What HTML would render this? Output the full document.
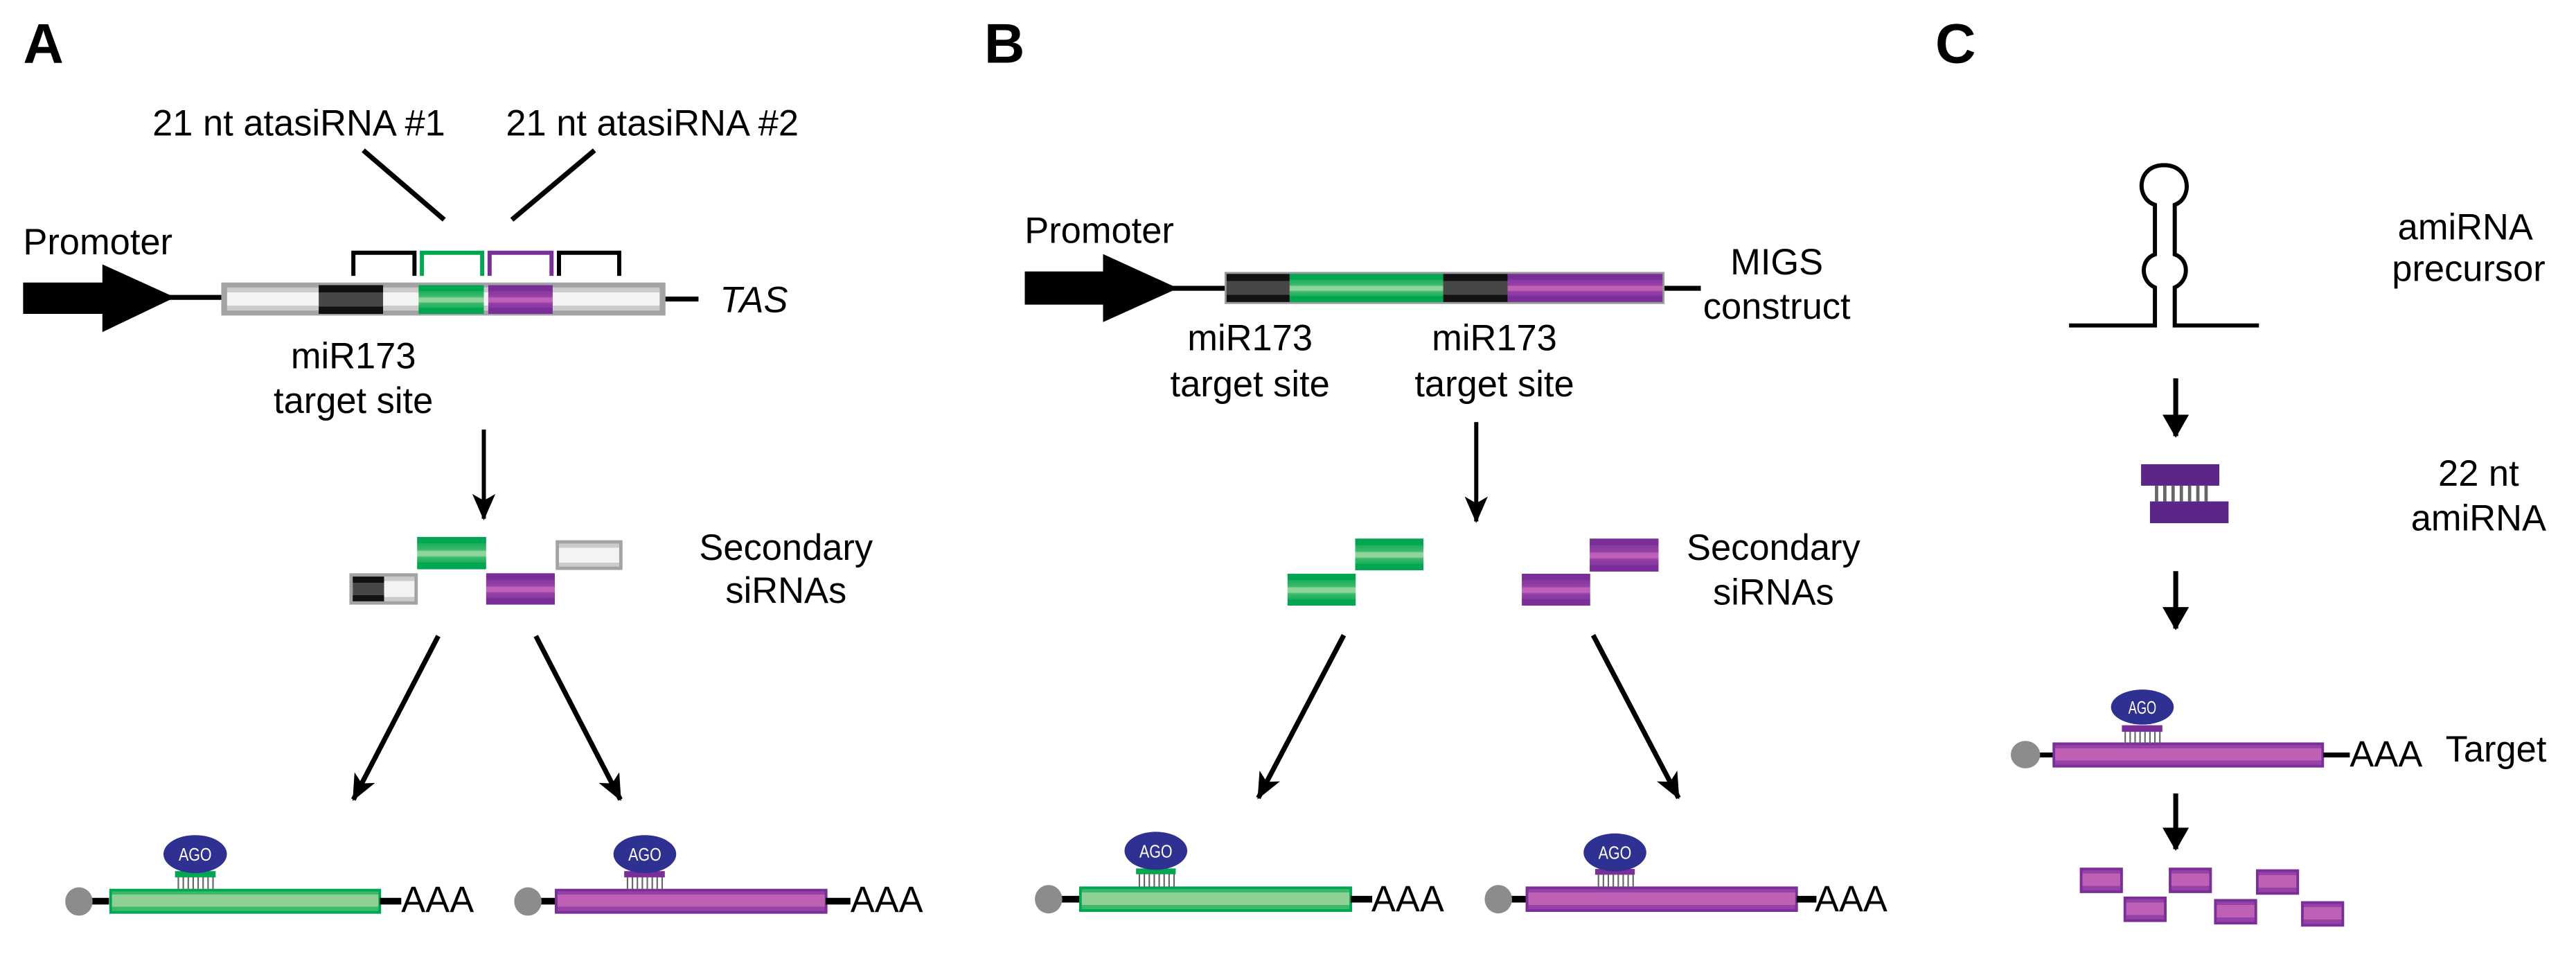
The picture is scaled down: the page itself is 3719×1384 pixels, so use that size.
<!DOCTYPE html>
<html><head><meta charset="utf-8"><style>html,body{margin:0;padding:0;background:#fff}svg{display:block}</style></head>
<body>
<svg width="3719" height="1384" viewBox="0 0 1560 580.5" preserveAspectRatio="none" xmlns="http://www.w3.org/2000/svg" font-family="Liberation Sans, sans-serif">
<defs>
<linearGradient id="gG" x1="0" y1="0" x2="0" y2="1">
<stop offset="0" stop-color="#00a651"/><stop offset="0.2" stop-color="#00a651"/><stop offset="0.2" stop-color="#1aae5a"/><stop offset="0.4" stop-color="#3cba6c"/><stop offset="0.45" stop-color="#8fd49c"/><stop offset="0.58" stop-color="#8fd49c"/><stop offset="0.63" stop-color="#3cba6c"/><stop offset="0.8" stop-color="#1aae5a"/><stop offset="0.8" stop-color="#00a651"/><stop offset="1" stop-color="#00a651"/></linearGradient>
<linearGradient id="gP" x1="0" y1="0" x2="0" y2="1">
<stop offset="0" stop-color="#7a2e98"/><stop offset="0.2" stop-color="#7a2e98"/><stop offset="0.2" stop-color="#86389f"/><stop offset="0.4" stop-color="#9441a8"/><stop offset="0.45" stop-color="#c060b8"/><stop offset="0.58" stop-color="#c060b8"/><stop offset="0.63" stop-color="#9441a8"/><stop offset="0.8" stop-color="#86389f"/><stop offset="0.8" stop-color="#7a2e98"/><stop offset="1" stop-color="#7a2e98"/></linearGradient>
<linearGradient id="gW" x1="0" y1="0" x2="0" y2="1">
<stop offset="0" stop-color="#cfcaca"/><stop offset="0.22" stop-color="#cfcaca"/><stop offset="0.22" stop-color="#f3f3f3"/><stop offset="0.78" stop-color="#f3f3f3"/><stop offset="0.78" stop-color="#cfcaca"/><stop offset="1" stop-color="#cfcaca"/></linearGradient>
<linearGradient id="gK" x1="0" y1="0" x2="0" y2="1">
<stop offset="0" stop-color="#111"/><stop offset="0.25" stop-color="#111"/><stop offset="0.25" stop-color="#474747"/><stop offset="0.75" stop-color="#474747"/><stop offset="0.75" stop-color="#111"/><stop offset="1" stop-color="#111"/></linearGradient>
<linearGradient id="gGL" x1="0" y1="0" x2="0" y2="1">
<stop offset="0" stop-color="#3cba6c"/><stop offset="0.2" stop-color="#3cba6c"/><stop offset="0.2" stop-color="#8fd095"/><stop offset="0.75" stop-color="#8fd095"/><stop offset="0.75" stop-color="#3cba6c"/><stop offset="1" stop-color="#3cba6c"/></linearGradient>
<linearGradient id="gPL" x1="0" y1="0" x2="0" y2="1">
<stop offset="0" stop-color="#9441a8"/><stop offset="0.2" stop-color="#9441a8"/><stop offset="0.2" stop-color="#be60b4"/><stop offset="0.75" stop-color="#be60b4"/><stop offset="0.75" stop-color="#9441a8"/><stop offset="1" stop-color="#9441a8"/></linearGradient>
<marker id="ah" viewBox="0 0 16 14" refX="15" refY="7" markerWidth="16" markerHeight="14" orient="auto" markerUnits="userSpaceOnUse"><path d="M0,0 L16,7 L0,14 L4,7 z" fill="#000"/></marker>
<marker id="ah2" viewBox="0 0 14 16" refX="13" refY="8" markerWidth="14" markerHeight="16" orient="auto" markerUnits="userSpaceOnUse"><path d="M0,0 L14,8 L0,16 z" fill="#000"/></marker>
</defs>

<g fill="#000" font-size="22">
<!-- Panel A -->
<text x="14" y="38" font-size="34" font-weight="bold">A</text>
<text x="181" y="82" text-anchor="middle">21 nt atasiRNA #1</text>
<text x="395" y="82" text-anchor="middle">21 nt atasiRNA #2</text>
<line x1="220" y1="91" x2="269" y2="133" stroke="#000" stroke-width="3"/>
<line x1="360" y1="91" x2="310" y2="133" stroke="#000" stroke-width="3"/>
<text x="14" y="154">Promoter</text>
<path d="M14,171 H62 V160 L106,180 L62,201 V190 H14 z"/>
<line x1="100" y1="180" x2="135" y2="180" stroke="#000" stroke-width="3"/>
<rect x="134" y="171" width="269" height="20" fill="#a3a3a3"/>
<rect x="137.5" y="174" width="262" height="14" fill="url(#gW)"/>
<rect x="193" y="172.6" width="39" height="17.4" fill="url(#gK)"/>
<rect x="253.5" y="172.6" width="39.5" height="17.4" fill="url(#gG)"/>
<rect x="295.7" y="172.6" width="39" height="17.4" fill="url(#gP)"/>
<line x1="403" y1="181" x2="423" y2="181" stroke="#000" stroke-width="3"/>
<text x="436" y="189" font-style="italic">TAS</text>
<path d="M214,167 V153 H251 V167" fill="none" stroke="#000" stroke-width="2.5"/>
<path d="M255.5,167 V153 H292 V167" fill="none" stroke="#00a651" stroke-width="2.5"/>
<path d="M296.5,167 V153 H334 V167" fill="none" stroke="#7a2e98" stroke-width="2.5"/>
<path d="M338.5,167 V153 H375 V167" fill="none" stroke="#000" stroke-width="2.5"/>
<text x="214" y="223" text-anchor="middle">miR173</text>
<text x="214" y="250" text-anchor="middle">target site</text>
<line x1="293" y1="260" x2="293" y2="314" stroke="#000" stroke-width="2.5" marker-end="url(#ah)"/>
<rect x="252.6" y="325" width="41.8" height="19.6" fill="url(#gG)"/>
<rect x="337.5" y="328" width="38.5" height="16" fill="url(#gW)" stroke="#a3a3a3" stroke-width="2"/>
<rect x="212.6" y="348" width="39.4" height="17" fill="url(#gW)" stroke="#a3a3a3" stroke-width="2"/>
<rect x="213.6" y="349" width="19" height="15" fill="url(#gK)"/>
<rect x="294.4" y="347" width="41.6" height="19" fill="url(#gP)"/>
<text x="476" y="339" text-anchor="middle">Secondary</text>
<text x="476" y="365" text-anchor="middle">siRNAs</text>
<line x1="265.4" y1="385" x2="214" y2="484" stroke="#000" stroke-width="3" marker-end="url(#ah)"/>
<line x1="324.5" y1="385" x2="375.7" y2="484" stroke="#000" stroke-width="3" marker-end="url(#ah)"/>

<!-- bottom A -->
<line x1="48" y1="545.5" x2="66" y2="545.5" stroke="#000" stroke-width="4"/>
<ellipse cx="47.8" cy="545.7" rx="8.3" ry="8.6" fill="#8c8c8c"/>
<rect x="67" y="538.8" width="163" height="13.5" fill="url(#gGL)" stroke="#00a651" stroke-width="1.6"/>
<line x1="230" y1="545.5" x2="243" y2="545.5" stroke="#000" stroke-width="4"/>
<text x="243" y="552" font-size="22">AAA</text>
<rect x="106" y="527.3" width="24.6" height="3.8" fill="#00a651"/>
<g stroke="#666" stroke-width="0.9"><line x1="108" y1="531" x2="108" y2="538"/><line x1="111" y1="531" x2="111" y2="538"/><line x1="114" y1="531" x2="114" y2="538"/><line x1="117" y1="531" x2="117" y2="538"/><line x1="120" y1="531" x2="120" y2="538"/><line x1="123" y1="531" x2="123" y2="538"/><line x1="126" y1="531" x2="126" y2="538"/><line x1="129" y1="531" x2="129" y2="538"/></g>
<ellipse cx="118.2" cy="517" rx="19.2" ry="11.5" fill="#2e3192"/>
<text x="118.2" y="521" font-size="11" fill="#fff" text-anchor="middle" textLength="20" lengthAdjust="spacingAndGlyphs">AGO</text>

<line x1="320" y1="545.5" x2="336" y2="545.5" stroke="#000" stroke-width="4"/>
<ellipse cx="319.7" cy="545.7" rx="8.3" ry="8.6" fill="#8c8c8c"/>
<rect x="336.8" y="538.8" width="163.5" height="13.5" fill="url(#gPL)" stroke="#7a2e98" stroke-width="1.6"/>
<line x1="500" y1="545.5" x2="515" y2="545.5" stroke="#000" stroke-width="4"/>
<text x="515" y="552" font-size="22">AAA</text>
<rect x="378" y="527.3" width="24.6" height="3.8" fill="#7a2e98"/>
<g stroke="#666" stroke-width="0.9"><line x1="380" y1="531" x2="380" y2="538"/><line x1="383" y1="531" x2="383" y2="538"/><line x1="386" y1="531" x2="386" y2="538"/><line x1="389" y1="531" x2="389" y2="538"/><line x1="392" y1="531" x2="392" y2="538"/><line x1="395" y1="531" x2="395" y2="538"/><line x1="398" y1="531" x2="398" y2="538"/><line x1="401" y1="531" x2="401" y2="538"/></g>
<ellipse cx="390.5" cy="517" rx="19" ry="11.5" fill="#2e3192"/>
<text x="390.5" y="521" font-size="11" fill="#fff" text-anchor="middle" textLength="20" lengthAdjust="spacingAndGlyphs">AGO</text>

<!-- Panel B -->
<text x="596" y="38" font-size="34" font-weight="bold">B</text>
<text x="620.5" y="147">Promoter</text>
<path d="M620.6,164.3 H668 V153.8 L713.4,174.5 L668,195 V184.4 H620.6 z"/>
<line x1="708" y1="174.5" x2="742" y2="174.5" stroke="#000" stroke-width="3"/>
<rect x="741.6" y="164.6" width="266.4" height="19.4" fill="#999"/>
<rect x="742.8" y="165.8" width="38.2" height="17" fill="url(#gK)"/>
<rect x="781" y="165.8" width="93" height="17" fill="url(#gG)"/>
<rect x="874" y="165.8" width="39" height="17" fill="url(#gK)"/>
<rect x="913" y="165.8" width="93.8" height="17" fill="url(#gP)"/>
<line x1="1008" y1="174.5" x2="1030" y2="174.5" stroke="#000" stroke-width="3"/>
<text x="1076" y="166" text-anchor="middle">MIGS</text>
<text x="1076" y="193" text-anchor="middle">construct</text>
<text x="757" y="212" text-anchor="middle">miR173</text>
<text x="757" y="240" text-anchor="middle">target site</text>
<text x="905" y="212" text-anchor="middle">miR173</text>
<text x="905" y="240" text-anchor="middle">target site</text>
<line x1="894" y1="255.5" x2="894" y2="315.6" stroke="#000" stroke-width="2.5" marker-end="url(#ah)"/>
<rect x="820.7" y="326" width="41.3" height="19.2" fill="url(#gG)"/>
<rect x="779.7" y="347.3" width="41.3" height="19.3" fill="url(#gG)"/>
<rect x="962.7" y="326" width="41.7" height="20" fill="url(#gP)"/>
<rect x="921.6" y="347.3" width="41.4" height="19.3" fill="url(#gP)"/>
<text x="1074" y="339" text-anchor="middle">Secondary</text>
<text x="1074" y="366" text-anchor="middle">siRNAs</text>
<line x1="813.8" y1="384.5" x2="762" y2="483" stroke="#000" stroke-width="3" marker-end="url(#ah)"/>
<line x1="964.8" y1="384.5" x2="1016.5" y2="483" stroke="#000" stroke-width="3" marker-end="url(#ah)"/>

<line x1="636" y1="544.3" x2="654" y2="544.3" stroke="#000" stroke-width="4"/>
<ellipse cx="635" cy="544.3" rx="8.3" ry="8.6" fill="#8c8c8c"/>
<rect x="654.3" y="537.4" width="163.7" height="13.8" fill="url(#gGL)" stroke="#00a651" stroke-width="1.6"/>
<line x1="818" y1="544.3" x2="831" y2="544.3" stroke="#000" stroke-width="4"/>
<text x="830.5" y="551.6" font-size="22">AAA</text>
<rect x="688" y="525.7" width="24" height="3.5" fill="#00a651"/>
<g stroke="#666" stroke-width="0.9"><line x1="690" y1="529" x2="690" y2="537"/><line x1="693" y1="529" x2="693" y2="537"/><line x1="696" y1="529" x2="696" y2="537"/><line x1="699" y1="529" x2="699" y2="537"/><line x1="702" y1="529" x2="702" y2="537"/><line x1="705" y1="529" x2="705" y2="537"/><line x1="708" y1="529" x2="708" y2="537"/><line x1="711" y1="529" x2="711" y2="537"/></g>
<ellipse cx="700" cy="515" rx="19" ry="11.5" fill="#2e3192"/>
<text x="700" y="519" font-size="11" fill="#fff" text-anchor="middle" textLength="20" lengthAdjust="spacingAndGlyphs">AGO</text>

<line x1="908" y1="544.3" x2="925" y2="544.3" stroke="#000" stroke-width="4"/>
<ellipse cx="907.4" cy="544.3" rx="8.3" ry="8.6" fill="#8c8c8c"/>
<rect x="924.7" y="537.4" width="163.3" height="13.8" fill="url(#gPL)" stroke="#7a2e98" stroke-width="1.6"/>
<line x1="1088" y1="544.3" x2="1100" y2="544.3" stroke="#000" stroke-width="4"/>
<text x="1099" y="551.6" font-size="22">AAA</text>
<rect x="966" y="526" width="24" height="3.5" fill="#7a2e98"/>
<g stroke="#666" stroke-width="0.9"><line x1="968" y1="529.5" x2="968" y2="537"/><line x1="971" y1="529.5" x2="971" y2="537"/><line x1="974" y1="529.5" x2="974" y2="537"/><line x1="977" y1="529.5" x2="977" y2="537"/><line x1="980" y1="529.5" x2="980" y2="537"/><line x1="983" y1="529.5" x2="983" y2="537"/><line x1="986" y1="529.5" x2="986" y2="537"/><line x1="989" y1="529.5" x2="989" y2="537"/></g>
<ellipse cx="978" cy="516" rx="19" ry="11.5" fill="#2e3192"/>
<text x="978" y="520" font-size="11" fill="#fff" text-anchor="middle" textLength="20" lengthAdjust="spacingAndGlyphs">AGO</text>

<!-- Panel C -->
<text x="1172" y="38" font-size="34" font-weight="bold">C</text>
<path d="M1253,197 H1305 V174 C1296,170 1296,157 1305,154 V124 C1293,120 1294,100 1310.5,100 C1327,100 1328,120 1317,124 V154 C1326,157 1326,170 1317,174 V197 H1368" fill="none" stroke="#000" stroke-width="2.5"/>
<text x="1493" y="145" text-anchor="middle">amiRNA</text>
<text x="1495" y="170" text-anchor="middle">precursor</text>
<line x1="1317.6" y1="229" x2="1317.6" y2="264" stroke="#000" stroke-width="3" marker-end="url(#ah2)"/>
<rect x="1296.6" y="281" width="47.4" height="13" fill="#5e2589"/>
<rect x="1302" y="303.5" width="47.6" height="13.2" fill="#5e2589"/>
<g stroke="#666" stroke-width="2"><line x1="1306" y1="294" x2="1306" y2="303.5"/><line x1="1311" y1="294" x2="1311" y2="303.5"/><line x1="1316" y1="294" x2="1316" y2="303.5"/><line x1="1321" y1="294" x2="1321" y2="303.5"/><line x1="1326" y1="294" x2="1326" y2="303.5"/><line x1="1331" y1="294" x2="1331" y2="303.5"/><line x1="1336" y1="294" x2="1336" y2="303.5"/></g>
<text x="1501" y="294" text-anchor="middle">22 nt</text>
<text x="1501" y="321" text-anchor="middle">amiRNA</text>
<line x1="1317.6" y1="345.7" x2="1317.6" y2="380.5" stroke="#000" stroke-width="3" marker-end="url(#ah2)"/>
<line x1="1227" y1="457" x2="1244" y2="457" stroke="#000" stroke-width="3"/>
<ellipse cx="1226.6" cy="456.8" rx="8.9" ry="8.3" fill="#8c8c8c"/>
<rect x="1243.8" y="450.2" width="162.8" height="13.6" fill="url(#gPL)" stroke="#7a2e98" stroke-width="1.6"/>
<line x1="1407" y1="457" x2="1423" y2="457" stroke="#000" stroke-width="3"/>
<text x="1423" y="464" font-size="22">AAA</text>
<text x="1481" y="461">Target</text>
<rect x="1285" y="439" width="24.5" height="4" fill="#7a2e98"/>
<g stroke="#666" stroke-width="0.9"><line x1="1287" y1="443" x2="1287" y2="450"/><line x1="1290" y1="443" x2="1290" y2="450"/><line x1="1293" y1="443" x2="1293" y2="450"/><line x1="1296" y1="443" x2="1296" y2="450"/><line x1="1299" y1="443" x2="1299" y2="450"/><line x1="1302" y1="443" x2="1302" y2="450"/><line x1="1305" y1="443" x2="1305" y2="450"/><line x1="1308" y1="443" x2="1308" y2="450"/></g>
<ellipse cx="1297.4" cy="428" rx="19" ry="10.6" fill="#2e3192"/>
<text x="1297.4" y="432" font-size="11" fill="#fff" text-anchor="middle" textLength="17" lengthAdjust="spacingAndGlyphs">AGO</text>
<line x1="1317.6" y1="480.3" x2="1317.6" y2="514" stroke="#000" stroke-width="3" marker-end="url(#ah2)"/>
<g fill="url(#gPL)" stroke="#7a2e98" stroke-width="1.6">
<rect x="1260.3" y="526" width="24.5" height="13.8"/><rect x="1314.2" y="526" width="24.5" height="13.8"/><rect x="1367" y="527" width="24.5" height="13.8"/>
<rect x="1286.8" y="543.5" width="24.5" height="13.8"/><rect x="1341.6" y="545" width="24.5" height="13.8"/><rect x="1394.3" y="546.3" width="24.5" height="13.8"/>
</g>
</g>
</svg>
</body></html>
